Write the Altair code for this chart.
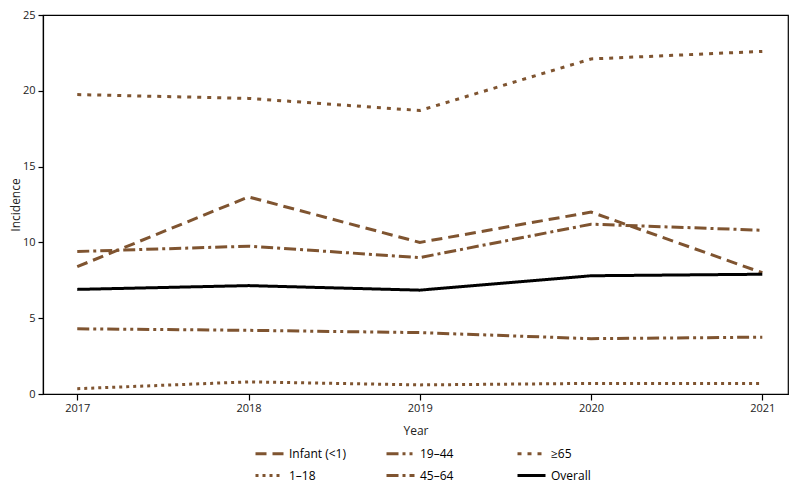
import altair as alt
import pandas as pd

years = [2017, 2018, 2019, 2020, 2021]
groups = ["Infant (<1)", "1–18", "19–44", "45–64", "≥65", "Overall"]
infant = [8.4, 13.0, 10.0, 12.0, 8.0]
age_1_18 = [0.35, 0.8, 0.6, 0.7, 0.7]
age_19_44 = [4.3, 4.2, 4.05, 3.65, 3.75]
age_45_64 = [9.4, 9.75, 9.0, 11.2, 10.8]
age_65 = [19.75, 19.5, 18.7, 22.1, 22.6]
overall = [6.9, 7.15, 6.85, 7.8, 7.9]

series = {
    "Infant (<1)": infant,
    "1–18": age_1_18,
    "19–44": age_19_44,
    "45–64": age_45_64,
    "≥65": age_65,
    "Overall": overall,
}
rows = []
for g, vals in series.items():
    for y, v in zip(years, vals):
        rows.append({"Year": y, "Group": g, "Incidence": v})
df = pd.DataFrame(rows)

brown = "#7f5430"
colors = [brown, brown, brown, brown, brown, "#000000"]
dashes = [[11, 6], [3, 4], [12, 4, 3, 4, 3, 4], [12, 4, 3, 4], [4, 6], [1, 0]]
widths = [3, 3, 3, 3, 3, 4]

font = "Open Sans"

chart = alt.Chart(df).mark_line(strokeCap="butt").encode(
    x=alt.X("Year:Q", scale=alt.Scale(domain=[2016.8, 2021.15], nice=False, zero=False),
            axis=alt.Axis(values=years, format="d", title="Year", grid=False,
                          tickSize=6, labelPadding=2, titlePadding=12)),
    y=alt.Y("Incidence:Q", scale=alt.Scale(domain=[0, 25], nice=False),
            axis=alt.Axis(values=[0, 5, 10, 15, 20, 25], title="Incidence", grid=False,
                          tickSize=5, labelPadding=3, titlePadding=0)),
    color=alt.Color("Group:N", scale=alt.Scale(domain=groups, range=colors),
                    legend=alt.Legend(title=None, orient="none", legendX=211, legendY=423,
                                      columns=3, direction="vertical",
                                      symbolType="stroke", symbolSize=784,
                                      gridAlign="all", columnPadding=34, rowPadding=-9,
                                      labelFontSize=12, labelFont=font, labelColor="#000",
                                      symbolStrokeWidth=3)),
    strokeDash=alt.StrokeDash("Group:N", scale=alt.Scale(domain=groups, range=dashes), legend=None),
    strokeWidth=alt.StrokeWidth("Group:N", scale=alt.Scale(domain=groups, range=widths), legend=None),
    detail="Group:N",
).properties(
    width=745, height=379,
    autosize=alt.AutoSizeParams(type="none"),
    padding={"left": 35, "top": 7, "right": 4, "bottom": 90},
).configure_view(
    stroke="#000", strokeWidth=1.2
).configure_axis(
    domainColor="#000", tickColor="#000", labelColor="#222", titleColor="#222",
    labelFont=font, titleFont=font, labelFontSize=11, titleFontSize=12,
    titleFontWeight="normal", domainWidth=1.2, tickWidth=1.2
)

chart.save("out.html", embed_options={"renderer": "svg", "actions": False})
